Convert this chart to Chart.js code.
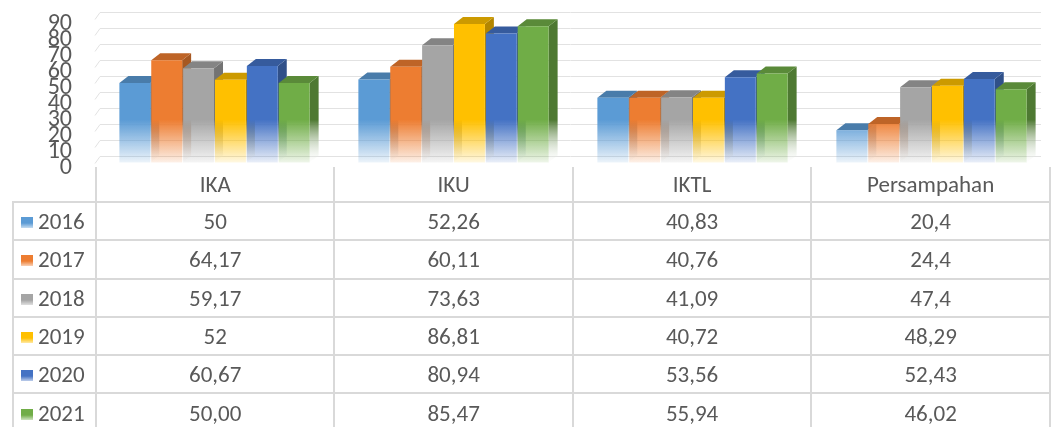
<!DOCTYPE html>
<html>
<head>
<meta charset="utf-8">
<script src="https://cdn.jsdelivr.net/npm/chart.js"></script>
<style>
  html, body { margin: 0; padding: 0; background: #fff; }
  body { width: 1051px; height: 427px; position: relative; overflow: hidden; font-family: Carlito, Lato, sans-serif; }
  #wrap { position: absolute; left: 0; top: 0; width: 1051px; height: 180px; }
  #tbl { position: absolute; left: 12px; top: 167px; border-collapse: collapse; table-layout: fixed;
         font-family: Carlito, Lato, sans-serif; font-size: 23px; color: #595959; }
  #tbl td { border: 2px solid #d9d9d9; text-align: center; padding: 0; height: 36.3px; white-space: nowrap; }
  #tbl tr.head td { border-top: none; height: 34px; }
  #tbl tr.head td:first-child { border-left: none; }
  #tbl td.key { text-align: left; padding-left: 7px; }
  .sw { display: inline-block; width: 12px; height: 11px; margin-right: 5px; vertical-align: 1px; }
</style>
</head>
<body>
<div id="wrap"><canvas id="chart"></canvas></div>
<table id="tbl"></table>
<script>
const categories = ["IKA", "IKU", "IKTL", "Persampahan"];
const years = ["2016", "2017", "2018", "2019", "2020", "2021"];

// values as printed in the data table
const v2016 = ["50", "52,26", "40,83", "20,4"];
const v2017 = ["64,17", "60,11", "40,76", "24,4"];
const v2018 = ["59,17", "73,63", "41,09", "47,4"];
const v2019 = ["52", "86,81", "40,72", "48,29"];
const v2020 = ["60,67", "80,94", "53,56", "52,43"];
const v2021 = ["50,00", "85,47", "55,94", "46,02"];
const seriesText = [v2016, v2017, v2018, v2019, v2020, v2021];

const yTicks = [0, 10, 20, 30, 40, 50, 60, 70, 80, 90];

const colors = ["#5B9BD5", "#ED7D31", "#A5A5A5", "#FFC000", "#4472C4", "#70AD47"];

function toNum(s) { return parseFloat(s.replace(",", ".")); }

function rgba(hex, a) {
  const n = parseInt(hex.slice(1), 16);
  return "rgba(" + (n >> 16) + "," + ((n >> 8) & 255) + "," + (n & 255) + "," + a + ")";
}
function shade(hex, f) {
  const n = parseInt(hex.slice(1), 16);
  const r = Math.round((n >> 16) * f), g = Math.round(((n >> 8) & 255) * f), b = Math.round((n & 255) * f);
  return "rgb(" + r + "," + g + "," + b + ")";
}
function fade(chart, color, f) {
  const ca = chart.chartArea;
  if (!ca) return color;
  const base = f ? shade(color, f) : color;
  const g = chart.ctx.createLinearGradient(0, ca.top, 0, ca.bottom);
  g.addColorStop(0, base);
  g.addColorStop(0.7, base);
  g.addColorStop(1, f ? "rgba(255,255,255,0.15)" : rgba(color, 0.1));
  return g;
}

const DX = 9, DY = 7;

// back wall grid + 3D sides/tops, drawn behind the front faces
const depthPlugin = {
  id: "depth",
  beforeDatasetsDraw(chart) {
    const ctx = chart.ctx, ca = chart.chartArea, y = chart.scales.y;
    ctx.save();
    ctx.strokeStyle = "#e2e2e2";
    ctx.lineWidth = 1;
    yTicks.forEach(v => {
      const py = Math.round(y.getPixelForValue(v) - DY) + 0.5;
      ctx.beginPath();
      ctx.moveTo(ca.left + 5, py);
      ctx.lineTo(ca.right - 10, py);
      ctx.stroke();
      ctx.beginPath();
      ctx.moveTo(ca.left, py + DY);
      ctx.lineTo(ca.left + 5, py);
      ctx.stroke();
    });
    chart.data.datasets.forEach((ds, i) => {
      const meta = chart.getDatasetMeta(i);
      meta.data.forEach(bar => {
        const p = bar.getProps(["x", "y", "base", "width"], true);
        const l = p.x - p.width / 2, r = p.x + p.width / 2;
        ctx.fillStyle = fade(chart, colors[i], 0.7);
        ctx.beginPath();
        ctx.moveTo(r, p.y); ctx.lineTo(r + DX, p.y - DY);
        ctx.lineTo(r + DX, p.base - DY); ctx.lineTo(r, p.base);
        ctx.closePath(); ctx.fill();
        ctx.fillStyle = shade(colors[i], 0.8);
        ctx.beginPath();
        ctx.moveTo(l, p.y); ctx.lineTo(l + DX, p.y - DY);
        ctx.lineTo(r + DX, p.y - DY); ctx.lineTo(r, p.y);
        ctx.closePath(); ctx.fill();
      });
    });
    ctx.restore();
  }
};

const chart = new Chart(document.getElementById("chart"), {
  type: "bar",
  data: {
    labels: categories,
    datasets: years.map((yr, i) => ({
      label: yr,
      data: seriesText[i].map(toNum),
      backgroundColor: c => fade(c.chart, colors[i]),
      borderWidth: 0,
      categoryPercentage: 0.8,
      barPercentage: 0.97
    }))
  },
  options: {
    responsive: true,
    maintainAspectRatio: false,
    animation: false,
    layout: { padding: { top: 19, bottom: 17, left: 0, right: 0 } },
    plugins: { legend: { display: false }, tooltip: { enabled: false } },
    scales: {
      x: { display: false },
      y: {
        min: 0, max: 90,
        afterFit: s => { s.width = 95; },
        afterBuildTicks: s => { s.ticks = yTicks.map(v => ({ value: v })); },
        grid: { display: true, drawOnChartArea: false, drawTicks: true, tickLength: 23, tickColor: "rgba(0,0,0,0)" },
        border: { display: false },
        ticks: {
          autoSkip: false, padding: 0, labelOffset: 5,
          color: "#595959",
          font: { family: "Carlito, Lato, sans-serif", size: 24, lineHeight: 1 }
        }
      }
    }
  },
  plugins: [depthPlugin]
});

// data table under the plot, columns aligned to the x scale
const xs = chart.scales.x;
const colW = xs.width / categories.length;
const tbl = document.getElementById("tbl");
let html = '<colgroup><col style="width:' + (xs.left - 12) + 'px">';
categories.forEach(() => { html += '<col style="width:' + colW + 'px">'; });
html += '</colgroup><tr class="head"><td></td>';
categories.forEach(c => { html += "<td>" + c + "</td>"; });
html += "</tr>";
years.forEach((yr, i) => {
  html += '<tr><td class="key"><span class="sw" style="background:linear-gradient(' +
    colors[i] + ' 55%, ' + rgba(colors[i], 0.35) + ')"></span>' + yr + "</td>";
  seriesText[i].forEach(t => { html += "<td>" + t + "</td>"; });
  html += "</tr>";
});
tbl.innerHTML = html;
</script>
</body>
</html>
